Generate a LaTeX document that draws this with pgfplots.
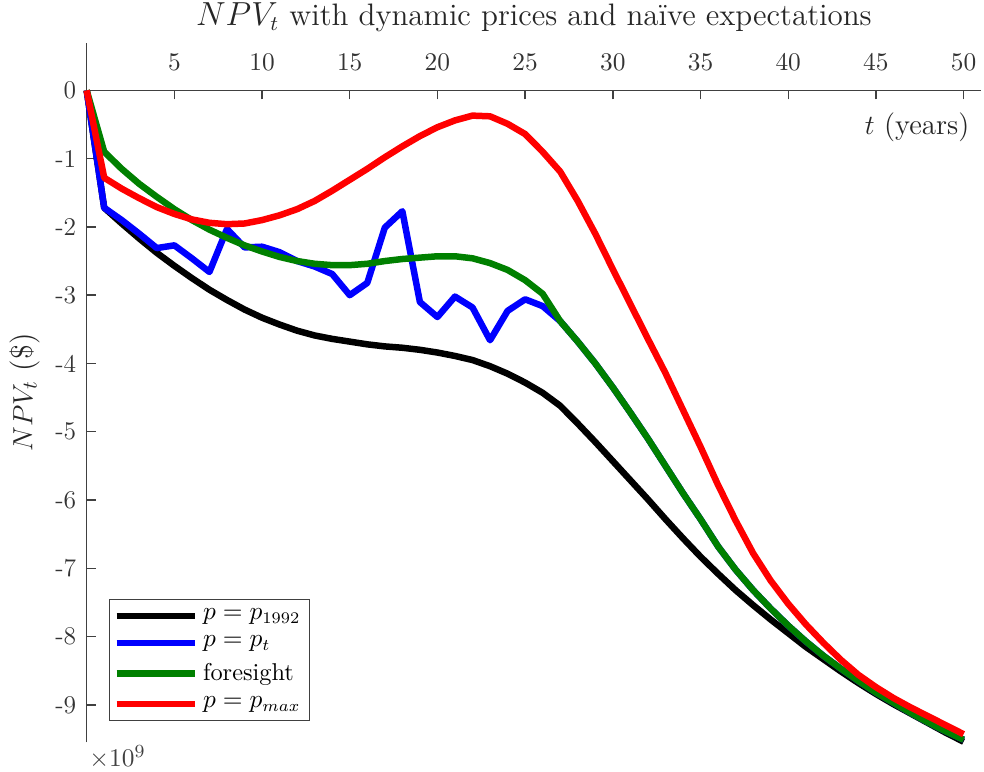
\documentclass[border=0pt]{standalone}
\usepackage{pgfplots}
\usepackage{pgfplotstable}
\pgfplotsset{compat=1.18}
\definecolor{axgray}{gray}{0.25}
\definecolor{mgreen}{rgb}{0,0.5,0}

\pgfplotstableread{
t black blue green red
0 0 0 0 0
1 -1.72 -1.72 -0.90 -1.28
2 -1.95 -1.90 -1.15 -1.44
3 -2.17 -2.10 -1.37 -1.58
4 -2.38 -2.31 -1.56 -1.71
5 -2.57 -2.27 -1.74 -1.81
6 -2.75 -2.46 -1.90 -1.89
7 -2.92 -2.66 -2.04 -1.94
8 -3.07 -2.03 -2.16 -1.96
9 -3.21 -2.30 -2.27 -1.95
10 -3.33 -2.29 -2.36 -1.90
11 -3.43 -2.37 -2.44 -1.83
12 -3.52 -2.50 -2.50 -1.74
13 -3.59 -2.58 -2.54 -1.62
14 -3.64 -2.69 -2.56 -1.47
15 -3.68 -3.00 -2.56 -1.31
16 -3.72 -2.82 -2.54 -1.15
17 -3.75 -2.01 -2.50 -0.98
18 -3.77 -1.77 -2.47 -0.82
19 -3.80 -3.10 -2.45 -0.67
20 -3.84 -3.32 -2.43 -0.54
21 -3.89 -3.02 -2.43 -0.44
22 -3.95 -3.18 -2.46 -0.37
23 -4.04 -3.66 -2.53 -0.38
24 -4.15 -3.23 -2.63 -0.49
25 -4.28 -3.06 -2.78 -0.64
26 -4.43 -3.16 -2.98 -0.90
27 -4.62 -3.38 -3.38 -1.19
28 -4.88 -3.68 -3.68 -1.62
29 -5.15 -4.00 -4.00 -2.10
30 -5.43 -4.35 -4.35 -2.62
31 -5.71 -4.72 -4.72 -3.13
32 -5.99 -5.10 -5.10 -3.64
33 -6.28 -5.50 -5.50 -4.14
34 -6.56 -5.90 -5.90 -4.68
35 -6.83 -6.28 -6.28 -5.22
36 -7.08 -6.68 -6.68 -5.78
37 -7.32 -7.02 -7.02 -6.30
38 -7.54 -7.32 -7.32 -6.78
39 -7.75 -7.59 -7.59 -7.18
40 -7.95 -7.84 -7.84 -7.52
41 -8.15 -8.07 -8.07 -7.82
42 -8.33 -8.28 -8.28 -8.09
43 -8.51 -8.47 -8.47 -8.34
44 -8.68 -8.65 -8.65 -8.56
45 -8.84 -8.82 -8.82 -8.74
46 -8.99 -8.97 -8.97 -8.90
47 -9.13 -9.12 -9.12 -9.04
48 -9.27 -9.26 -9.26 -9.17
49 -9.41 -9.39 -9.39 -9.30
50 -9.54 -9.51 -9.51 -9.43
}\datatable

\begin{document}
\begin{tikzpicture}
\begin{axis}[
  scale only axis,
  width=386pt, height=302pt,
  xmin=0, xmax=51, ymin=-9.55, ymax=0.7,
  axis x line=middle, axis y line=left,
  axis line style={-, color=axgray, line width=0.6pt},
  clip=false,
  xtick={5,10,...,50},
  ytick={-9,-8,...,0},
  yticklabels={-9,-8,-7,-6,-5,-4,-3,-2,-1,0},
  tick style={color=axgray, line width=0.6pt},
  major tick length=3.9pt,
  xtick align=outside, ytick align=inside,
  ticklabel style={font=\fontsize{11}{13}\selectfont, text=black!80},
  xticklabel style={anchor=south, yshift=9pt},
  yticklabel style={anchor=east, xshift=-1pt},
  every axis title shift=0pt,
  title={$NPV_t$ with dynamic prices and naïve expectations},
  title style={at={(rel axis cs:0.5,1)}, anchor=south, inner sep=1pt, yshift=3.6pt, font=\fontsize{13.4}{15}\selectfont, text=black!85},
  xlabel={$t$ (years)},
  xlabel style={at={(axis cs:50,0)}, anchor=north east, yshift=-6pt, xshift=6pt, font=\fontsize{12.5}{14}\selectfont, text=black!85},
  ylabel={$NPV_t$ (\$)},
  ylabel style={at={(rel axis cs:-0.069,0.5)}, anchor=center, rotate=0, font=\fontsize{13}{15}\selectfont, text=black!85},
  legend style={at={(rel axis cs:0.0245,0.031)}, anchor=south west, draw=axgray, fill=white,
    font=\fontsize{10.5}{12}\selectfont, row sep=1.5pt, inner sep=2pt},
  legend cell align=left,
  legend image code/.code={\draw[#1, line width=2.6pt] (0pt,0pt) -- (34pt,0pt);},
  every axis plot/.append style={line width=2.8pt, line join=round},
]
\addplot[black] table[x=t, y=black] {\datatable};
\addlegendentry{$p=p_{1992}$}
\addplot[blue] table[x=t, y=blue] {\datatable};
\addlegendentry{$p=p_t$}
\addplot[mgreen] table[x=t, y=green] {\datatable};
\addlegendentry{foresight}
\addplot[red] table[x=t, y=red] {\datatable};
\addlegendentry{$p=p_{max}$}
\node[anchor=north west, inner sep=1pt, text=black!75, font=\fontsize{11}{13}\selectfont] at (rel axis cs:0,0) {$\times 10^9$};
\coordinate (bl) at (rel axis cs:0,0);
\coordinate (tr) at (rel axis cs:1,1);
\end{axis}
\path ([xshift=-37.4pt,yshift=-12.5pt]bl) rectangle ([yshift=18pt]tr);
\end{tikzpicture}
\end{document}
